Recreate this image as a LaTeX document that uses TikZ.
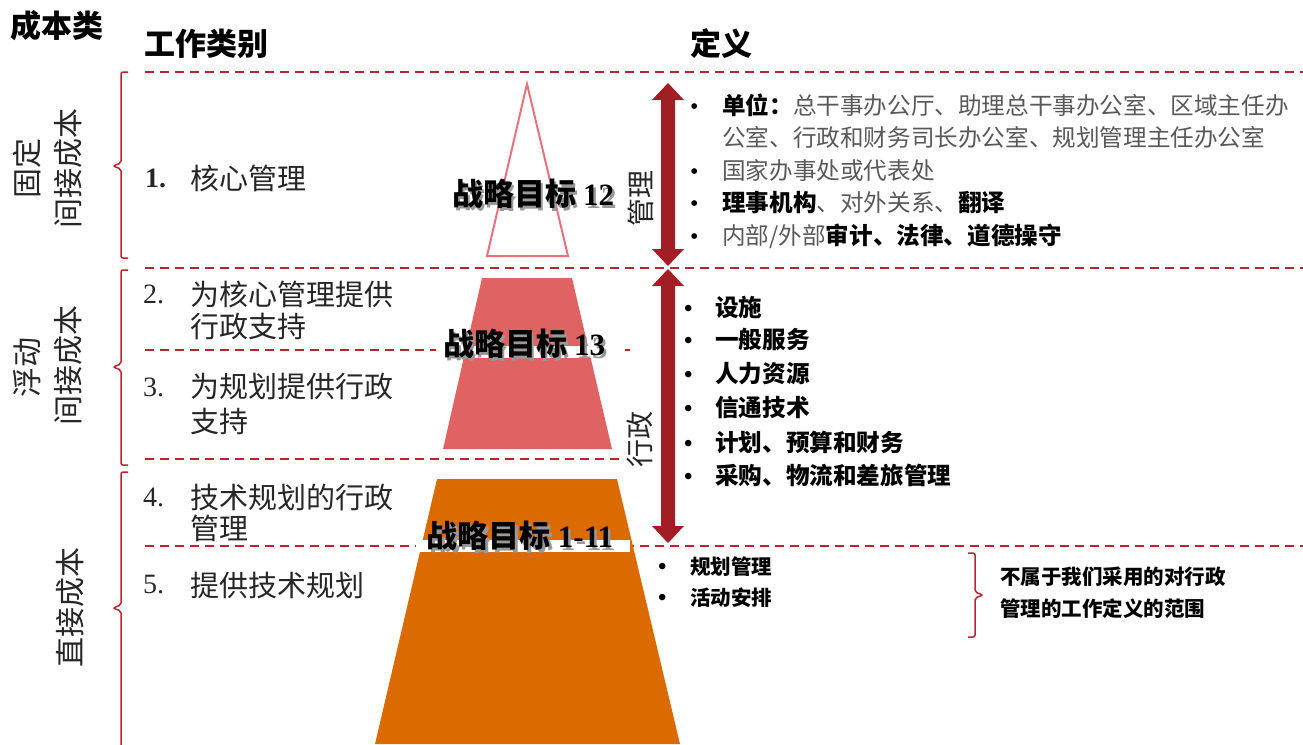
\documentclass[tikz,border=0pt]{standalone}
\usepackage{fontspec}
\setmainfont{Liberation Serif}
\newfontfamily\cjk{Noto Sans CJK SC}
\definecolor{dred}{RGB}{182,38,48}
\definecolor{arrred}{RGB}{160,30,36}
\definecolor{tripink}{RGB}{230,114,124}
\definecolor{trapink}{RGB}{224,99,99}
\definecolor{traorange}{RGB}{219,106,0}
\newcommand{\bul}[1]{\makebox[#1][l]{\color{black}\rmfamily\fontsize{24}{24}\selectfont\textbullet}}
\tikzset{
  dline/.style={draw=dred, line width=1.6pt, dash pattern=on 9pt off 6pt},
  bracel/.style={draw=dred, line width=1.5pt, rounded corners=2pt},
  cat/.style={font=\cjk\fontsize{30}{34}\selectfont, rotate=90, text=black!85, inner sep=0pt},
  head/.style={font=\cjk\bfseries\fontsize{31}{36}\selectfont, anchor=west, inner sep=0pt},
  item/.style={anchor=west, inner sep=0pt, font=\cjk\fontsize{29}{34}\selectfont, text=black!85},
  num/.style={anchor=west, inner sep=0pt, font=\fontsize{28}{34}\selectfont, text=black!85},
  def/.style={anchor=west, inner sep=0pt, font=\cjk\fontsize{23.6}{28}\selectfont, text=black!65},
  defb/.style={anchor=west, inner sep=0pt, font=\cjk\bfseries\fontsize{23.6}{28}\selectfont, text=black},
  defs/.style={anchor=west, inner sep=0pt, font=\cjk\bfseries\fontsize{20.5}{26}\selectfont, text=black},
  goal/.style={inner sep=0pt, text=black},
  arr/.style={fill=arrred, draw=none},
  vlab/.style={font=\cjk\fontsize{28}{32}\selectfont, rotate=90, text=black!85, inner sep=0pt}
}
\newcommand{\goalraw}[1]{{\cjk\bfseries\fontsize{31}{36}\selectfont 战略目标}\hspace{7pt}{\bfseries\fontsize{31}{36}\selectfont #1}}
\newcommand{\goaltext}[1]{\rlap{\hspace{2.5pt}\raisebox{-3pt}{\color{black!40}\goalraw{#1}}}\goalraw{#1}}
\begin{document}
\begin{tikzpicture}[x=1pt,y=-1pt]
\useasboundingbox (0,0) rectangle (1303,744);
% headers
\node[head] (h1) at (10,26) {成本类};
\node[head] (h2) at (144,44) {工作类别};
\node[head] (h3) at (690,44) {定义};
% dashed lines
\draw[dline] (145,72) -- (1303,72);
\draw[dline] (145,268) -- (1303,268);
\draw[dline] (145,350) -- (630,350);
\draw[dline] (145,459) -- (622,459);
\draw[dline] (145,546) -- (1303,546);
% left braces
\draw[bracel] (128,72) -- (121,72) -- (121,163) -- (113,166) -- (121,169) -- (121,258) -- (128,258);
\draw[bracel] (128,270) -- (121,270) -- (121,364) -- (113,367) -- (121,370) -- (121,465) -- (128,465);
\draw[bracel] (128,472) -- (121,472) -- (121,605) -- (113,608) -- (121,611) -- (121,746);
% category labels
\node[cat] (c1a) at (27,168) {固定};
\node[cat] (c1b) at (68,168) {间接成本};
\node[cat] (c2a) at (27,367) {浮动};
\node[cat] (c2b) at (68,365) {间接成本};
\node[cat] (c3b) at (70,607) {直接成本};
% work items
\node[num, font=\bfseries\fontsize{28}{34}\selectfont] (n1) at (145,178) {1.};
\node[item] (i1) at (190,178) {核心管理};
\node[num] (n2) at (143,294) {2.};
\node[item] (i2a) at (190,294) {为核心管理提供};
\node[item] (i2b) at (190,327) {行政支持};
\node[num] (n3) at (143,387) {3.};
\node[item] (i3a) at (190,387) {为规划提供行政};
\node[item] (i3b) at (190,421) {支持};
\node[num] (n4) at (143,497) {4.};
\node[item] (i4a) at (190,497) {技术规划的行政};
\node[item] (i4b) at (190,528) {管理};
\node[num] (n5) at (143,585) {5.};
\node[item] (i5) at (190,585) {提供技术规划};
% shapes
\draw[tripink, line width=2pt, line join=miter] (527,84) -- (568,256) -- (487,256) -- cycle;
\fill[trapink] (482,278) -- (572,278) -- (612,449) -- (443,449) -- cycle;
\fill[traorange] (437,479) -- (617,479) -- (680,744) -- (375,744) -- cycle;
\fill[white] (436,346) rectangle (620,358);
\fill[white] (416,539.5) rectangle (630,552);
% goal labels
\node[goal] (g1) at (533,195) {\goaltext{12}};
\node[goal] (g2) at (524,345) {\goaltext{13}};
\node[goal] (g3) at (520,537) {\goaltext{1-11}};
% double arrows
\fill[arr] (668,83) -- (684,100) -- (675,100) -- (675,249) -- (684,249) -- (668,266) -- (652,249) -- (661,249) -- (661,100) -- (652,100) -- cycle;
\fill[arr] (668,269) -- (684,286) -- (675,286) -- (675,526) -- (684,526) -- (668,543) -- (652,526) -- (661,526) -- (661,286) -- (652,286) -- cycle;
\node[vlab] (v1) at (641,198) {管理};
\node[vlab] (v2) at (640,439) {行政};
% definitions block 1
\node[def] (d1) at (690,105) {\bul{32pt}{\bfseries\color{black}单位：}总干事办公厅、助理总干事办公室、区域主任办};
\node[def] (d1b) at (722,137) {公室、行政和财务司长办公室、规划管理主任办公室};
\node[def] (d2) at (690,170) {\bul{32pt}国家办事处或代表处};
\node[def] (d3) at (690,203) {\bul{32pt}{\bfseries\color{black}理事机构}、对外关系、{\bfseries\color{black}翻译}};
\node[def] (d4) at (690,236) {\bul{32pt}内部/外部{\bfseries\color{black}审计、法律、道德操守}};
% definitions block 2
\node[defb] (e1) at (684,307) {\bul{31pt}设施};
\node[defb] (e2) at (684,340) {\bul{31pt}一般服务};
\node[defb] (e3) at (684,374) {\bul{31pt}人力资源};
\node[defb] (e4) at (684,408) {\bul{31pt}信通技术};
\node[defb] (e5) at (684,442) {\bul{31pt}计划、预算和财务};
\node[defb] (e6) at (684,475) {\bul{31pt}采购、物流和差旅管理};
% definitions block 3
\node[defs] (f1) at (658,567) {\bul{32pt}规划管理};
\node[defs] (f2) at (658,598) {\bul{32pt}活动安排};
\draw[bracel] (968,553) -- (975,553) -- (975,592) -- (983,595) -- (975,598) -- (975,637) -- (968,637);
\node[defs] (r1) at (1000,577) {不属于我们采用的对行政};
\node[defs] (r2) at (1000,609) {管理的工作定义的范围};
\end{tikzpicture}
\end{document}
